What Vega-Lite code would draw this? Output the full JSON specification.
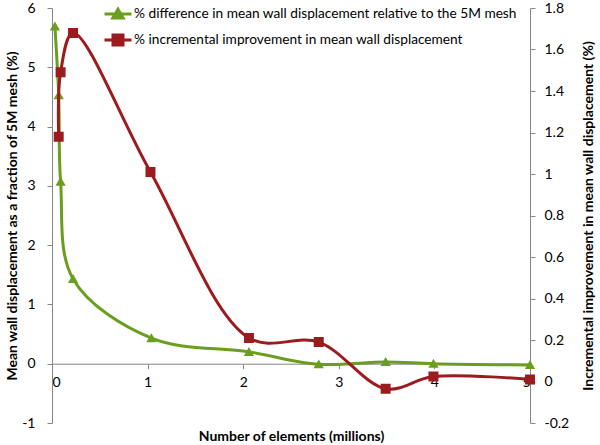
{
  "$schema": "https://vega.github.io/schema/vega-lite/v6.json",
  "autosize": {"type": "none"},
  "width": 478,
  "height": 415,
  "padding": {"left": 52, "top": 8, "right": 70, "bottom": 22},
  "background": "white",
  "data": {
    "values": [
      {"series": "% difference in mean wall displacement relative to the 5M mesh", "elements": 0.03, "value": 5.69},
      {"series": "% difference in mean wall displacement relative to the 5M mesh", "elements": 0.07, "value": 4.53},
      {"series": "% difference in mean wall displacement relative to the 5M mesh", "elements": 0.09, "value": 3.07},
      {"series": "% difference in mean wall displacement relative to the 5M mesh", "elements": 0.22, "value": 1.43},
      {"series": "% difference in mean wall displacement relative to the 5M mesh", "elements": 1.04, "value": 0.43},
      {"series": "% difference in mean wall displacement relative to the 5M mesh", "elements": 2.06, "value": 0.2},
      {"series": "% difference in mean wall displacement relative to the 5M mesh", "elements": 2.79, "value": -0.01},
      {"series": "% difference in mean wall displacement relative to the 5M mesh", "elements": 3.49, "value": 0.03},
      {"series": "% difference in mean wall displacement relative to the 5M mesh", "elements": 3.99, "value": 0.0},
      {"series": "% difference in mean wall displacement relative to the 5M mesh", "elements": 5.0, "value": -0.02},
      {"series": "% incremental improvement in mean wall displacement", "elements": 0.07, "value": 1.18},
      {"series": "% incremental improvement in mean wall displacement", "elements": 0.09, "value": 1.49},
      {"series": "% incremental improvement in mean wall displacement", "elements": 0.22, "value": 1.68},
      {"series": "% incremental improvement in mean wall displacement", "elements": 1.03, "value": 1.01},
      {"series": "% incremental improvement in mean wall displacement", "elements": 2.06, "value": 0.21},
      {"series": "% incremental improvement in mean wall displacement", "elements": 2.79, "value": 0.19},
      {"series": "% incremental improvement in mean wall displacement", "elements": 3.49, "value": -0.035},
      {"series": "% incremental improvement in mean wall displacement", "elements": 3.99, "value": 0.024},
      {"series": "% incremental improvement in mean wall displacement", "elements": 5.0, "value": 0.01}
    ]
  },
  "encoding": {
    "x": {
      "field": "elements",
      "type": "quantitative",
      "scale": {"domain": [0, 5], "nice": false, "zero": false},
      "axis": {
        "values": [0, 1, 2, 3, 4, 5],
        "format": "d",
        "offset": -59.3,
        "title": "Number of elements (millions)",
        "titlePadding": 40,
        "labelPadding": 7
      }
    },
    "color": {
      "field": "series",
      "type": "nominal",
      "scale": {
        "domain": ["% difference in mean wall displacement relative to the 5M mesh", "% incremental improvement in mean wall displacement"],
        "range": ["#6b9e1f", "#9c1b1f"]
      },
      "legend": {
        "title": null,
        "orient": "none",
        "direction": "vertical",
        "legendX": 51,
        "legendY": -9,
        "padding": 0,
        "rowPadding": 0,
        "symbolSize": 729,
        "symbolStrokeWidth": 3,
        "labelFontSize": 13.7,
        "labelOffset": 1,
        "labelLimit": 0,
        "labelColor": "#000000"
      }
    }
  },
  "layer": [
    {
      "transform": [{"filter": "datum.series === '% difference in mean wall displacement relative to the 5M mesh'"}],
      "encoding": {
        "y": {
          "field": "value",
          "type": "quantitative",
          "scale": {"domain": [-1, 6], "nice": false, "zero": false},
          "axis": {
            "orient": "left",
            "values": [-1, 0, 1, 2, 3, 4, 5, 6],
            "format": "d",
            "labelExpr": "replace(datum.label, '\u2212', '-')",
            "labelPadding": 12,
            "titlePadding": 2,
            "title": "Mean wall displacement as a fraction of 5M mesh (%)"
          }
        }
      },
      "layer": [
        {"mark": {"type": "line", "interpolate": "catmull-rom", "strokeWidth": 3}},
        {
          "mark": {"type": "point", "filled": true, "opacity": 1, "size": 729},
          "encoding": {
            "shape": {
              "field": "series",
              "type": "nominal",
              "scale": {
                "domain": ["% difference in mean wall displacement relative to the 5M mesh", "% incremental improvement in mean wall displacement"],
                "range": ["M-1,0H1M0,-0.36L0.38,0.3H-0.38Z", "M-1,0H1M-0.37,-0.37H0.37V0.37H-0.37Z"]
              },
              "legend": {
                "title": null,
                "orient": "none",
                "direction": "vertical",
                "legendX": 51,
                "legendY": -9,
                "padding": 0,
                "rowPadding": 0,
                "symbolSize": 729,
                "symbolStrokeWidth": 3,
                "labelFontSize": 13.7,
                "labelOffset": 1,
                "labelLimit": 0,
                "labelColor": "#000000"
              }
            }
          }
        }
      ]
    },
    {
      "transform": [{"filter": "datum.series === '% incremental improvement in mean wall displacement'"}],
      "encoding": {
        "y": {
          "field": "value",
          "type": "quantitative",
          "scale": {"domain": [-0.2, 1.8], "nice": false, "zero": false},
          "axis": {
            "orient": "right",
            "values": [-0.2, 0, 0.2, 0.4, 0.6, 0.8, 1, 1.2, 1.4, 1.6, 1.8],
            "format": "~g",
            "labelExpr": "replace(datum.label, '\u2212', '-')",
            "labelPadding": 9,
            "titlePadding": 27,
            "titleAngle": -90,
            "title": "Incremental  improvement in mean wall displacement (%)"
          }
        }
      },
      "layer": [
        {"mark": {"type": "line", "interpolate": "catmull-rom", "strokeWidth": 3}},
        {
          "mark": {"type": "point", "filled": true, "opacity": 1, "size": 729},
          "encoding": {
            "shape": {
              "field": "series",
              "type": "nominal",
              "scale": {
                "domain": ["% difference in mean wall displacement relative to the 5M mesh", "% incremental improvement in mean wall displacement"],
                "range": ["M-1,0H1M0,-0.36L0.38,0.3H-0.38Z", "M-1,0H1M-0.37,-0.37H0.37V0.37H-0.37Z"]
              }
            }
          }
        }
      ]
    }
  ],
  "resolve": {"scale": {"y": "independent"}},
  "config": {
    "view": {"stroke": null},
    "font": "Lato",
    "axis": {
      "grid": false,
      "domainColor": "#868686",
      "tickColor": "#868686",
      "tickSize": 5,
      "labelColor": "#000000",
      "titleColor": "#000000",
      "labelFontSize": 14,
      "titleFontSize": 14,
      "titleFontWeight": "bold"
    }
  }
}
